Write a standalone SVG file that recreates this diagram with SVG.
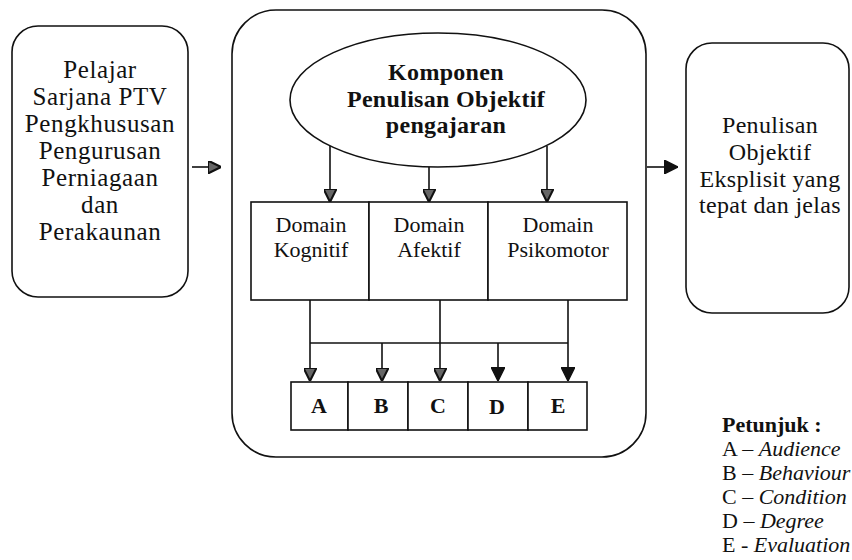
<svg xmlns="http://www.w3.org/2000/svg" width="852" height="560" viewBox="0 0 852 560">
<style>
  .box{fill:#fff;stroke:#111;stroke-width:1.6}
  .t{font-family:"Liberation Serif","Times New Roman",serif;fill:#111;text-anchor:middle}
  .b{font-weight:bold}
  .w{font-size:25px;letter-spacing:0.6px}
  .ln{stroke:#111;stroke-width:1.6;fill:none}
  .lg{font-family:"Liberation Serif","Times New Roman",serif;fill:#111;font-size:22px}
</style>
<defs>
  <marker id="ahg" viewBox="0 0 10 10" refX="10" refY="5" markerWidth="13" markerHeight="13" markerUnits="userSpaceOnUse" orient="auto">
    <path d="M0,0 L10,5 L0,10 z" fill="#666" stroke="#111" stroke-width="1.6"/>
  </marker>
  <marker id="ahb" viewBox="0 0 10 10" refX="10" refY="5" markerWidth="14" markerHeight="14" markerUnits="userSpaceOnUse" orient="auto">
    <path d="M0,0 L10,5 L0,10 z" fill="#111" stroke="#111" stroke-width="1"/>
  </marker>
</defs>
<rect width="852" height="560" fill="#fff"/>

<g id="pelajar">
  <rect class="box" x="12" y="26" width="176" height="271" rx="26"/>
  <text class="t w" x="100" y="78">Pelajar</text>
  <text class="t w" x="100" y="105">Sarjana PTV</text>
  <text class="t w" x="100" y="132">Pengkhususan</text>
  <text class="t w" x="100" y="159">Pengurusan</text>
  <text class="t w" x="100" y="186">Perniagaan</text>
  <text class="t w" x="100" y="213">dan</text>
  <text class="t w" x="100" y="240">Perakaunan</text>
</g>

<g id="komponen-frame">
  <rect class="box" x="232" y="10" width="414" height="447" rx="44"/>
</g>

<g id="komponen">
  <ellipse class="box" cx="438" cy="100" rx="148" ry="67"/>
  <text class="t b" font-size="24" letter-spacing="0.3" x="446" y="80">Komponen</text>
  <text class="t b" font-size="24" letter-spacing="0.3" x="446" y="107">Penulisan Objektif</text>
  <text class="t b" font-size="24" letter-spacing="0.3" x="446" y="133">pengajaran</text>
</g>

<g id="kognitif">
  <rect class="box" x="251" y="202" width="118" height="98"/>
  <text class="t" font-size="22" x="311" y="232">Domain</text>
  <text class="t" font-size="22" x="311" y="257">Kognitif</text>
</g>
<g id="afektif">
  <rect class="box" x="369" y="202" width="119" height="98"/>
  <text class="t" font-size="22" x="429" y="232">Domain</text>
  <text class="t" font-size="22" x="429" y="257">Afektif</text>
</g>
<g id="psikomotor">
  <rect class="box" x="488" y="202" width="139" height="98"/>
  <text class="t" font-size="22" x="558" y="232">Domain</text>
  <text class="t" font-size="22" x="558" y="257">Psikomotor</text>
</g>

<g id="A"><rect class="box" x="291" y="382" width="57" height="48"/><text class="t b" font-size="22" x="319" y="413">A</text></g>
<g id="B"><rect class="box" x="348" y="382" width="60" height="48"/><text class="t b" font-size="22" x="381" y="413">B</text></g>
<g id="C"><rect class="box" x="408" y="382" width="60" height="48"/><text class="t b" font-size="22" x="438" y="413">C</text></g>
<g id="D"><rect class="box" x="468" y="382" width="60" height="48"/><text class="t b" font-size="22" x="497" y="414">D</text></g>
<g id="E"><rect class="box" x="528" y="382" width="59" height="48"/><text class="t b" font-size="22" x="558" y="413">E</text></g>

<g id="hasil">
  <rect class="box" x="686" y="43" width="163" height="270" rx="26"/>
  <text class="t" font-size="24" letter-spacing="0.3" x="770" y="133">Penulisan</text>
  <text class="t" font-size="24" letter-spacing="0.3" x="770" y="160">Objektif</text>
  <text class="t" font-size="24" letter-spacing="0.3" x="770" y="187">Eksplisit yang</text>
  <text class="t" font-size="24" letter-spacing="0.3" x="770" y="213">tepat dan jelas</text>
</g>

<g id="connectors">
  <line class="ln" x1="192" y1="167" x2="221" y2="167" marker-end="url(#ahg)"/>
  <line class="ln" x1="647" y1="167" x2="678" y2="167" marker-end="url(#ahb)"/>
  <line class="ln" x1="330" y1="146" x2="330" y2="202" marker-end="url(#ahg)"/>
  <line class="ln" x1="429" y1="167" x2="429" y2="202" marker-end="url(#ahg)"/>
  <line class="ln" x1="547" y1="146" x2="547" y2="202" marker-end="url(#ahg)"/>
  <line class="ln" x1="310" y1="343" x2="568" y2="343"/>
  <line class="ln" x1="310" y1="300" x2="310" y2="381" marker-end="url(#ahg)"/>
  <line class="ln" x1="382" y1="343" x2="382" y2="381" marker-end="url(#ahg)"/>
  <line class="ln" x1="440" y1="300" x2="440" y2="381" marker-end="url(#ahg)"/>
  <line class="ln" x1="498" y1="343" x2="498" y2="381" marker-end="url(#ahb)"/>
  <line class="ln" x1="568" y1="300" x2="568" y2="381" marker-end="url(#ahb)"/>
</g>

<g id="petunjuk">
  <text class="lg" x="722" y="432" font-weight="bold">Petunjuk :</text>
  <text class="lg" x="722" y="456">A – <tspan font-style="italic">Audience</tspan></text>
  <text class="lg" x="722" y="480">B – <tspan font-style="italic">Behaviour</tspan></text>
  <text class="lg" x="722" y="504">C – <tspan font-style="italic">Condition</tspan></text>
  <text class="lg" x="722" y="528">D – <tspan font-style="italic">Degree</tspan></text>
  <text class="lg" x="722" y="552">E - <tspan font-style="italic">Evaluation</tspan></text>
</g>
</svg>
